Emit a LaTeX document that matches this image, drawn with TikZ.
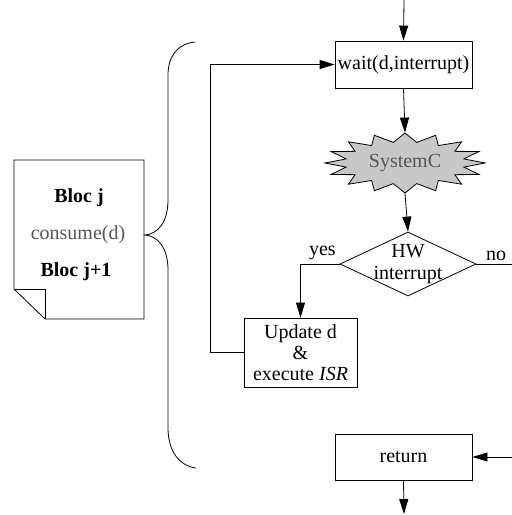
\documentclass[tikz,border=0pt]{standalone}
\usepackage{fontspec}
\setmainfont{Liberation Serif}
\usetikzlibrary{arrows.meta,shapes.geometric}
\definecolor{starfill}{RGB}{200,200,200}
\definecolor{softtext}{RGB}{85,85,85}
\begin{document}
\begin{tikzpicture}[x=1pt,y=-1pt,line width=0.8pt,
  font=\fontsize{20}{21}\selectfont,
  arr/.style={-{Triangle[length=15pt,width=9pt]}},
  box/.style={draw,rectangle,inner sep=0pt,align=center}]
\useasboundingbox (0,0) rectangle (512,515);

% document shape
\draw (14,160) -- (144,160) -- (144,319) -- (45,319) -- (14,289) -- cycle;
\draw (14,289) -- (45,289) -- (45,319);
\node[font=\fontsize{20}{21}\selectfont\bfseries] (bj) at (79,198) {Bloc j};
\node[text=softtext] (cons) at (78,235) {consume(d)};
\node[font=\fontsize{20}{21}\selectfont\bfseries] (bj1) at (76,272) {Bloc j+1};

% brace
\draw (195,42) .. controls (176,44) and (168,58) .. (168,75) -- (168,200)
  .. controls (168,222) and (158,234) .. (145,235)
  .. controls (158,236) and (168,248) .. (168,270) -- (168,428)
  .. controls (168,452) and (180,466) .. (196,468);

% boxes
\node[box,minimum width=137pt,minimum height=47pt] (wait) at (403.5,64.5) {wait(d,interrupt)};
\draw[fill=starfill] plot[samples at={0,...,31},variable=\i]
  ({405+(mod(\i,2)==0 ? 80 : 60)*cos(\i*11.25)},{163+(mod(\i,2)==0 ? 30 : 21)*sin(\i*11.25)}) -- cycle;
\node[rectangle,inner sep=0pt,minimum width=160pt,minimum height=60pt,text=softtext] (sysc) at (405,163) {SystemC};
\node[draw,diamond,minimum width=136pt,minimum height=64pt,inner sep=0pt,
  label={[align=center,font=\fontsize{20}{22}\selectfont]center:HW\\interrupt}] (dia) at (408,264) {};
\node[box,minimum width=113pt,minimum height=69pt] (upd) at (300.5,352.5) {Update d\\\&\\execute \textit{ISR}};
\node[box,minimum width=137pt,minimum height=46pt] (ret) at (403.5,457) {return};

\coordinate (topin) at (404,0);
\coordinate (loopx) at (210,0);
\coordinate (rightx) at (516,264);
\coordinate (bottomout) at (404,514);

% connectors
\draw[arr] (topin) -- (wait.north);
\draw[arr] (upd.west) -| (loopx |- wait.west) -- (wait.west);
\draw[arr] (wait.south) -- (sysc.north);
\draw[arr] (sysc.south) -- (dia.north);
\draw[arr] (dia.west) -| node[pos=0.22,above] {yes} (upd.north);
\draw (dia.east) -- node[pos=0.5,above] {no} (rightx);
\draw[arr] (rightx) |- (ret.east);
\draw[arr] (ret.south) -- (bottomout);
\end{tikzpicture}
\end{document}
